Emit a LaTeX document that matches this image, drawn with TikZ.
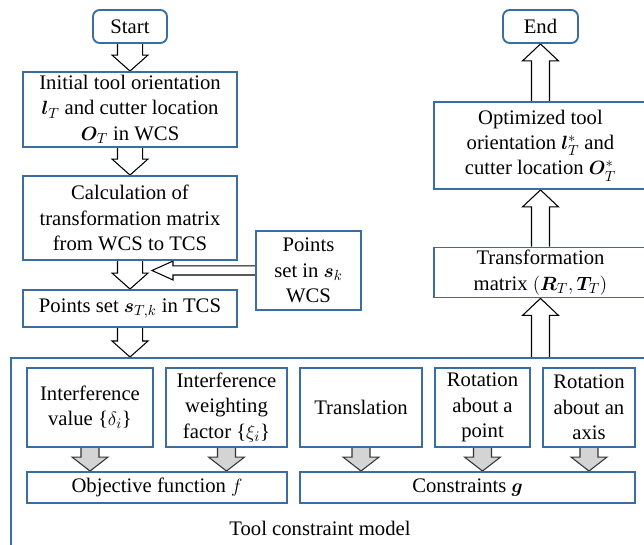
\documentclass[tikz,border=0pt]{standalone}
\usepackage{amsmath,amssymb,bm}
\usepackage{fontspec}
\setmainfont{Liberation Serif}
\usetikzlibrary{positioning,calc,backgrounds}

\definecolor{boxblue}{RGB}{58,110,160}
\newcommand{\pxu}{0.75pt}

% block arrow: style, shaft half width, head half width, head length, from, to
\newcommand{\blockarrow}[6]{%
  \coordinate (ba-s) at (#5);
  \coordinate (ba-e) at (#6);
  \coordinate (ba-b) at ($(ba-e)!#4!(ba-s)$);
  \path[#1] ($(ba-s)!#2!90:(ba-e)$) -- ($(ba-b)!#2!90:(ba-e)$) -- ($(ba-b)!#3!90:(ba-e)$)
    -- (ba-e) -- ($(ba-b)!#3!-90:(ba-e)$) -- ($(ba-b)!#2!-90:(ba-e)$) -- ($(ba-s)!#2!-90:(ba-e)$);
}

\tikzset{
  box/.style={draw=boxblue, line width=1.4pt, align=center, inner sep=2pt,
    font=\fontsize{15.5}{19}\selectfont},
  startend/.style={box, rounded corners=5pt},
  hollow/.style={draw=black, fill=white, line width=0.8pt},
  shaded/.style={draw=black!80, fill=black!17, line width=0.8pt},
  frame/.style={draw=boxblue, line width=1.4pt},
}

\begin{document}
\begin{tikzpicture}[x=\pxu, y=-\pxu]
    \useasboundingbox (0,0) rectangle (644,545);

    % left column
    \node [startend, minimum width={74*\pxu}, minimum height={33*\pxu}] (start) at (130,26.5) {Start};
    \node [box, minimum width={214*\pxu}, minimum height={75*\pxu}] (init) at (130,109.5)
        {Initial tool orientation\\ $\bm{l}_T$ and cutter location\\ $\bm{O}_T$ in WCS};
    \node [box, minimum width={214*\pxu}, minimum height={84*\pxu}] (calc) at (130,218)
        {Calculation of\\ transformation matrix\\ from WCS to TCS};
    \node [box, minimum width={214*\pxu}, minimum height={37*\pxu}] (pts) at (130,308.5)
        {Points set $\bm{s}_{T,k}$ in TCS};
    \node [box, minimum width={105*\pxu}, minimum height={79*\pxu}] (wcs) at (308.5,270.5)
        {Points\\ set in $\bm{s}_k$\\ WCS};

    % right column
    \node [startend, minimum width={75*\pxu}, minimum height={33*\pxu}] (end) at (540.5,26.5) {End};
    \node [box, minimum width={213*\pxu}, minimum height={87*\pxu}] (opt) at (540.5,145.5)
        {Optimized tool\\ orientation $\bm{l}_T^*$ and\\ cutter location $\bm{O}_T^*$};
    \node [box, minimum width={213*\pxu}, minimum height={49*\pxu}] (trans) at (540.5,272.5)
        {Transformation\\ matrix $(\bm{R}_T,\bm{T}_T)$};

    % constraint model
    \node [frame, anchor=north west, minimum width={660*\pxu}, minimum height={210*\pxu}] (model) at (10,357) {};
    \node [box, minimum width={126*\pxu}, minimum height={79*\pxu}] (ival) at (90,407.5)
        {Interference\\ value \{$\delta_i$\}};
    \node [box, minimum width={121*\pxu}, minimum height={79*\pxu}] (iwf) at (226.5,407.5)
        {Interference\\ weighting\\ factor \{$\xi_i$\}};
    \node [box, minimum width={122*\pxu}, minimum height={79*\pxu}] (transl) at (361,407.5) {Translation};
    \node [box, minimum width={95*\pxu}, minimum height={79*\pxu}] (rotp) at (482.5,407.5)
        {Rotation\\ about a\\ point};
    \node [box, minimum width={92*\pxu}, minimum height={79*\pxu}] (rota) at (589,407.5)
        {Rotation\\ about an\\ axis};
    \node [box, minimum width={260*\pxu}, minimum height={31*\pxu}] (obj) at (157,487.5) {Objective function $f$};
    \node [box, minimum width={335*\pxu}, minimum height={31*\pxu}] (cons) at (467.5,487.5) {Constraints $\bm{g}$};
    \node [font=\fontsize{15.5}{19}\selectfont] (modellabel) at (320,528) {Tool constraint model};

    \coordinate (wcstip) at ($(calc.south |- wcs.west)+(22,0)$);

    \begin{scope}[on background layer]
        \blockarrow{hollow}{9.4pt}{13.5pt}{12pt}{start.south}{init.north}
        \blockarrow{hollow}{9.4pt}{13.5pt}{12pt}{init.south}{calc.north}
        \blockarrow{hollow}{9.4pt}{13.5pt}{12pt}{calc.south}{pts.north}
        \blockarrow{hollow}{9.4pt}{13.5pt}{12pt}{pts.south}{pts.south |- model.north}
        \blockarrow{hollow}{3.4pt}{7.1pt}{15.75pt}{wcs.west}{wcstip}
        \blockarrow{hollow}{6.75pt}{13.5pt}{12.75pt}{trans.south |- model.north}{trans.south}
        \blockarrow{hollow}{6.75pt}{13.5pt}{12.75pt}{trans.north}{opt.south}
        \blockarrow{hollow}{6.75pt}{13.5pt}{12.75pt}{opt.north}{end.south}
        \foreach \src/\dst in {ival/obj, iwf/obj, transl/cons, rotp/cons, rota/cons}{
            \blockarrow{shaded}{6.75pt}{13.5pt}{10.5pt}{\src.south}{\src.south |- \dst.north}
        }
    \end{scope}
\end{tikzpicture}
\end{document}
